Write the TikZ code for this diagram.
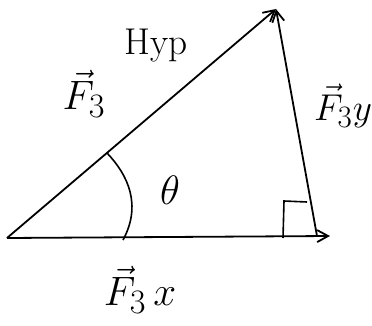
\documentclass[tikz,border=0pt]{standalone}
\usetikzlibrary{arrows.meta}
\newcommand{\hvec}[1]{\scalebox{1.65}{$#1$}}
\begin{document}
\begin{tikzpicture}[x=1pt,y=-1pt,
  vecline/.style={line width=1.8pt,-{Straight Barb[length=11pt,width=12pt,line width=1.8pt]}},
  plain/.style={line width=1.6pt},
  lbl/.style={font=\Huge, inner sep=0pt}]
\useasboundingbox (0,0) rectangle (372,326);
\coordinate (O) at (7,238);
\coordinate (A) at (276,9);
\coordinate (B) at (330,236);
\coordinate (C) at (317,236);
\coordinate (P) at (107,153);
\coordinate (Q) at (123,240);
\draw[vecline] (O) -- (A);
\draw[vecline] (O) -- (B);
\draw[vecline] (C) -- (A);
\draw[plain] (P) .. controls (128,175) and (142,205) .. (Q);
\draw[plain] (283,238) -- (284,201) -- (307,202);
\node[lbl] (hyp) at (156,46) {\scalebox{1.5}{Hyp}};
\node[lbl] (f3) at (84,94) {\hvec{\vec{F}_3}};
\node[lbl] (f3y) at (343,106) {\scalebox{1.5}{$\vec{F}_{3}y$}};
\node[lbl] (th) at (170,190) {\hvec{\theta}};
\node[lbl] (f3x) at (140,290) {\hvec{\vec{F}_3\,x}};
\end{tikzpicture}
\end{document}
